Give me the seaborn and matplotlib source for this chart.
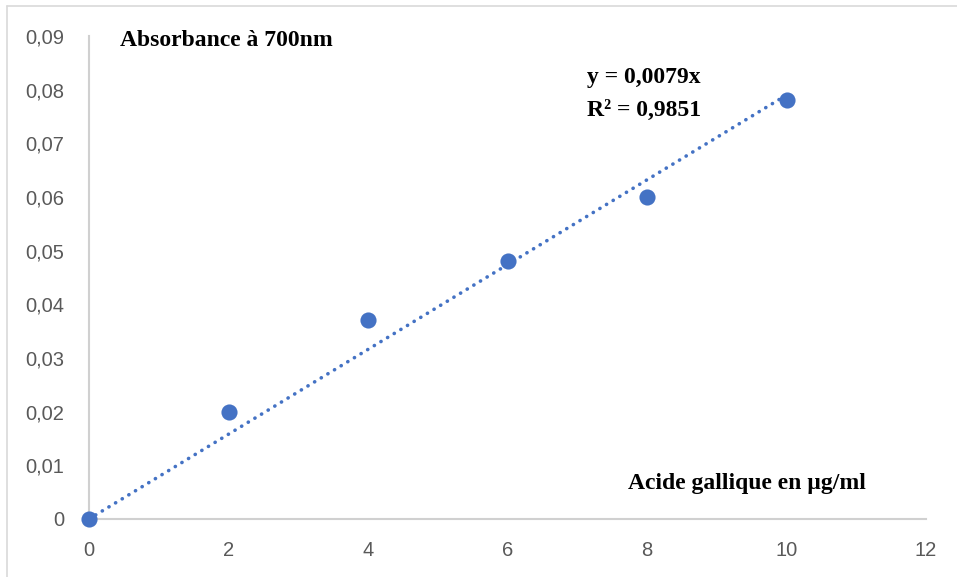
import numpy as np
import pandas as pd
import matplotlib
matplotlib.use("Agg")
import matplotlib.pyplot as plt
import seaborn as sns
from matplotlib.lines import Line2D

# Data
concentration = [0, 2, 4, 6, 8, 10]
absorbance = [0.0, 0.020, 0.037, 0.048, 0.060, 0.078]
slope = 0.0079
x_ticks = [0, 2, 4, 6, 8, 10, 12]
y_ticks = [0, 0.01, 0.02, 0.03, 0.04, 0.05, 0.06, 0.07, 0.08, 0.09]
y_labels = ["0", "0,01", "0,02", "0,03", "0,04", "0,05", "0,06", "0,07", "0,08", "0,09"]
equation_text = "y = 0,0079x\nR² = 0,9851"
y_title = "Absorbance à 700nm"
x_title = "Acide gallique en µg/ml"

sns.set_theme(style="white")
plt.rcParams["font.family"] = ["Liberation Sans", "DejaVu Sans"]

W, H = 957, 577
fig = plt.figure(figsize=(W / 100, H / 100), dpi=100)
ax = fig.add_axes([89 / W, 1 - 519 / H, (926 - 89) / W, (519 - 36) / H])

df = pd.DataFrame({"x": concentration, "y": absorbance})
blue = "#4472C4"

# trendline
xl = np.array([min(concentration), max(concentration)])
ax.plot(xl, slope * xl, color=blue, lw=2.6, linestyle=(0, (0.05, 2.1)),
        dash_capstyle="round", zorder=2)

sns.scatterplot(data=df, x="x", y="y", ax=ax, s=135, color=blue,
                edgecolor=blue, linewidth=0, zorder=3, clip_on=False)

ax.set_xlim(0, 12)
ax.set_ylim(0, 0.09)
ax.set_xticks(x_ticks)
ax.set_xticklabels([str(v) for v in x_ticks])
ax.set_yticks(y_ticks)
ax.set_yticklabels(y_labels)
ax.set_xlabel("")
ax.set_ylabel("")
ax.tick_params(axis="both", length=0, labelsize=14.5, labelcolor="#595959")
ax.tick_params(axis="x", pad=16)
ax.tick_params(axis="y", pad=18)

for s in ["top", "right"]:
    ax.spines[s].set_visible(False)
for s in ["left", "bottom"]:
    ax.spines[s].set_color("#D0D0D0")
    ax.spines[s].set_linewidth(1.5)

serif = ["Liberation Serif", "DejaVu Serif"]
fig.text(120 / W, 1 - 40 / H, y_title, fontsize=17, fontweight="bold",
         family=serif, va="center", ha="left", color="black")
fig.text(587 / W, 1 - 78 / H, equation_text.split("\n")[0], fontsize=17,
         fontweight="bold", family=serif, va="center", ha="left", color="black")
fig.text(587 / W, 1 - 110 / H, equation_text.split("\n")[1], fontsize=17,
         fontweight="bold", family=serif, va="center", ha="left", color="black")
fig.text(628 / W, 1 - 484 / H, x_title, fontsize=17, fontweight="bold",
         family=serif, va="center", ha="left", color="black")

# outer chart border (left and top visible)
fig.add_artist(Line2D([7 / W, 7 / W], [0, 1 - 6 / H], transform=fig.transFigure,
                      color="#D9D9D9", lw=1.2))
fig.add_artist(Line2D([7 / W, 1], [1 - 6 / H, 1 - 6 / H], transform=fig.transFigure,
                      color="#D9D9D9", lw=1.2))

fig.savefig("out.png", dpi=100, facecolor="white")
